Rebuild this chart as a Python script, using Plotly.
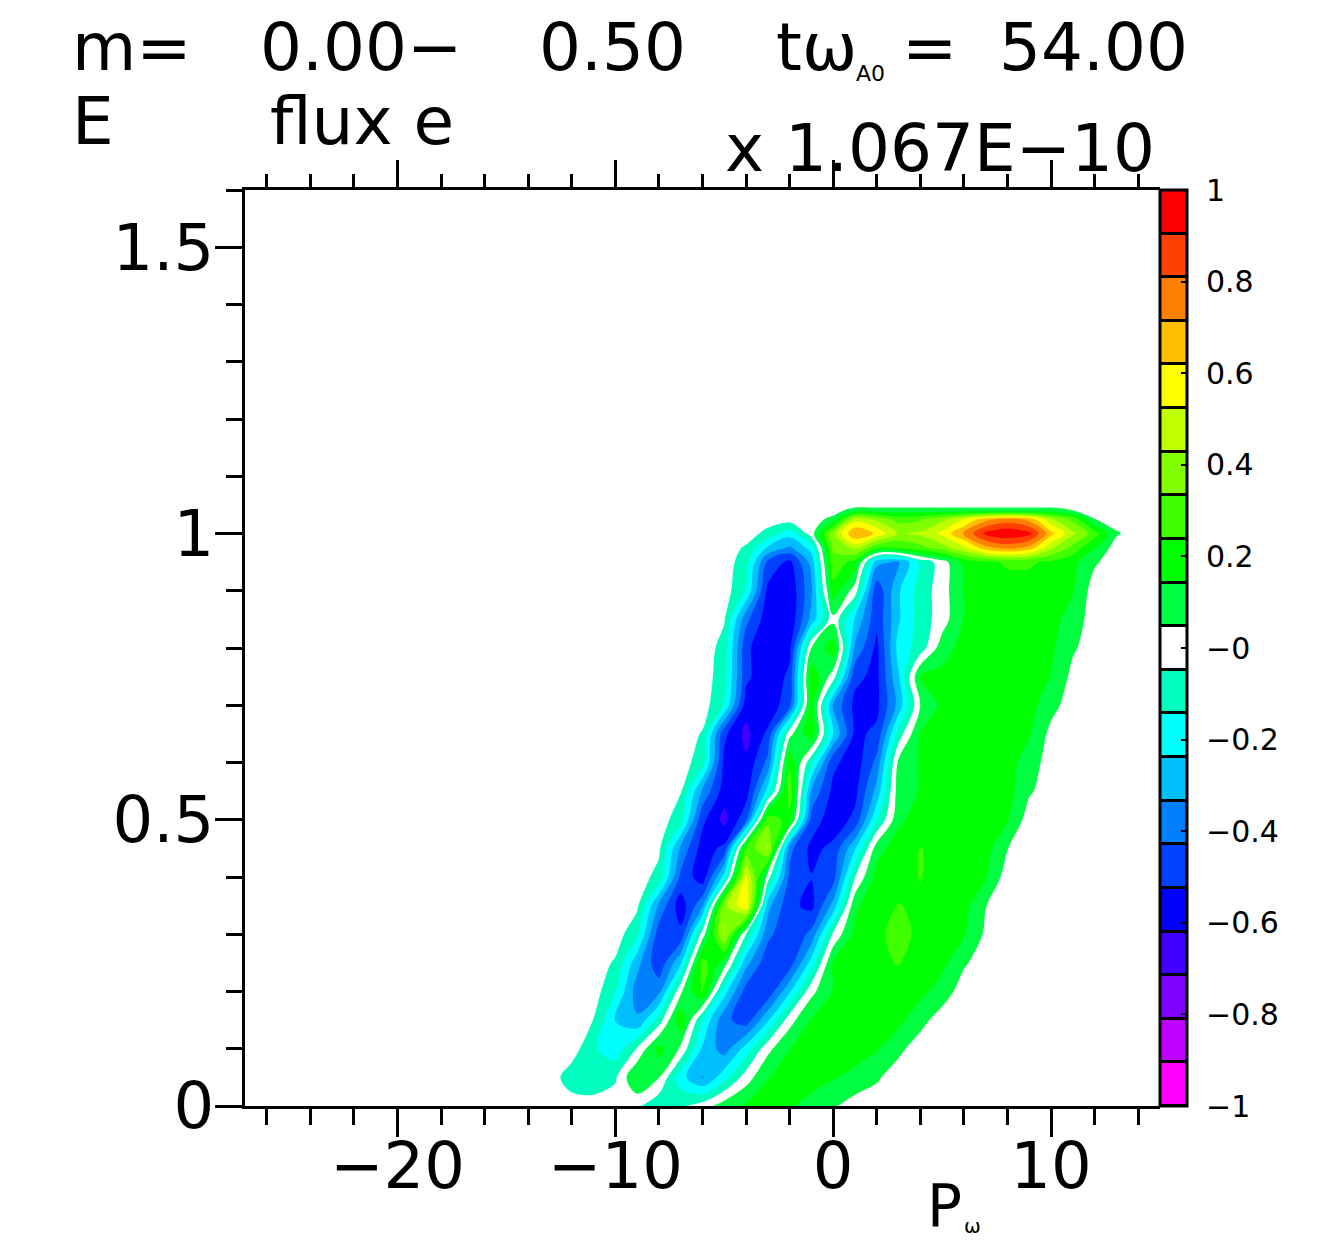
import plotly.graph_objects as go

# ---------------- data ----------------
x_vals = list(range(-14, 15))          # P_omega grid
y_vals = [0.0, 0.05, 0.10, 0.15, 0.20, 0.25, 0.30, 0.35, 0.40, 0.45, 0.50,
          0.55, 0.60, 0.65, 0.70, 0.75, 0.80, 0.85, 0.90, 0.95, 0.975,
          1.0, 1.025, 1.04, 1.05]      # E grid

flux = [
    [0,0,0,0,0,-0.03,-0.12,-0.06,0,0.10,0.16,0.17,0.15,0.12,0.06,0,0,0,0,0,0,0,0,0,0,0,0,0,0],
    [0,0,-0.10,-0.12,-0.06,0.15,0.05,-0.20,-0.34,-0.18,0,0.14,0.18,0.17,0.15,0.12,0.06,0,0,0,0,0,0,0,0,0,0,0,0],
    [0,0,0,-0.13,-0.20,-0.04,0.18,0.03,-0.25,-0.38,-0.20,0.02,0.14,0.20,0.19,0.18,0.15,0.07,0,0,0,0,0,0,0,0,0,0,0],
    [0,0,0,-0.05,-0.24,-0.32,-0.10,0.22,-0.15,-0.40,-0.48,-0.25,0.01,0.15,0.20,0.20,0.19,0.17,0.08,0,0,0,0,0,0,0,0,0,0],
    [0,0,0,0,-0.14,-0.38,-0.36,0.03,0.25,-0.20,-0.47,-0.50,-0.25,0.02,0.15,0.20,0.21,0.22,0.17,0.10,0,0,0,0,0,0,0,0,0],
    [0,0,0,0,-0.06,-0.30,-0.50,-0.25,0.28,0.10,-0.30,-0.50,-0.48,-0.20,0.15,0.20,0.23,0.24,0.22,0.17,0.06,0,0,0,0,0,0,0,0],
    [0,0,0,0,0,-0.12,-0.48,-0.50,0,0.45,-0.05,-0.40,-0.52,-0.40,-0.03,0.17,0.23,0.25,0.23,0.20,0.15,0.03,0,0,0,0,0,0,0],
    [0,0,0,0,0,-0.03,-0.35,-0.58,-0.35,0.40,0.60,-0.30,-0.50,-0.55,-0.30,0.12,0.22,0.24,0.23,0.20,0.18,0.05,0,0,0,0,0,0,0],
    [0,0,0,0,0,0,-0.08,-0.45,-0.58,-0.20,0.55,0,-0.45,-0.52,-0.47,-0.05,0.18,0.22,0.24,0.22,0.20,0.15,0,0,0,0,0,0,0],
    [0,0,0,0,0,0,-0.03,-0.35,-0.57,-0.50,0.25,0.45,-0.40,-0.55,-0.50,-0.25,0.10,0.20,0.24,0.22,0.20,0.18,0.05,0,0,0,0,0,0],
    [0,0,0,0,0,0,0,-0.10,-0.50,-0.65,-0.45,0.30,0.20,-0.47,-0.58,-0.50,-0.15,0.12,0.20,0.20,0.20,0.18,0.15,0,0,0,0,0,0],
    [0,0,0,0,0,0,0,-0.04,-0.35,-0.57,-0.57,-0.20,0.30,-0.35,-0.55,-0.55,-0.30,0.10,0.15,0.20,0.20,0.19,0.18,0.06,0,0,0,0,0],
    [0,0,0,0,0,0,0,0,-0.10,-0.55,-0.60,-0.40,0.22,-0.12,-0.50,-0.58,-0.40,0.07,0.15,0.20,0.20,0.20,0.18,0.10,0,0,0,0,0],
    [0,0,0,0,0,0,0,0,-0.055,-0.50,-0.65,-0.50,0.02,0.20,-0.24,-0.55,-0.50,-0.10,0.15,0.20,0.20,0.20,0.18,0.15,0.02,0,0,0,0],
    [0,0,0,0,0,0,0,0,0,-0.15,-0.57,-0.60,-0.45,0.20,-0.35,-0.55,-0.55,-0.30,0.05,0.17,0.20,0.20,0.20,0.18,0.08,0,0,0,0],
    [0,0,0,0,0,0,0,0,0,-0.10,-0.50,-0.60,-0.50,0.22,0,-0.50,-0.55,-0.25,0.15,0.17,0.20,0.20,0.20,0.18,0.14,0.02,0,0,0],
    [0,0,0,0,0,0,0,0,0,-0.08,-0.50,-0.60,-0.55,0.05,0.20,-0.35,-0.55,-0.20,-0.10,0.10,0.18,0.20,0.20,0.19,0.16,0.06,0,0,0],
    [0,0,0,0,0,0,0,0,0,-0.04,-0.40,-0.58,-0.60,-0.30,0.02,-0.25,-0.50,-0.25,-0.10,0,0.15,0.20,0.20,0.20,0.18,0.10,0,0,0],
    [0,0,0,0,0,0,0,0,0,0,-0.15,-0.55,-0.60,-0.35,0.20,0,-0.50,-0.25,-0.10,0,0.15,0.20,0.20,0.20,0.19,0.15,0,0,0],
    [0,0,0,0,0,0,0,0,0,0,-0.10,-0.45,-0.55,-0.30,0.30,0.20,-0.30,-0.35,-0.12,0,0.17,0.22,0.25,0.25,0.22,0.17,0.06,0,0],
    [0,0,0,0,0,0,0,0,0,0,-0.06,-0.25,-0.35,-0.20,0.35,0.45,0.25,0.25,0.30,0.38,0.50,0.68,0.75,0.68,0.45,0.30,0.15,0,0],
    [0,0,0,0,0,0,0,0,0,0,0,-0.08,-0.20,0,0.40,0.72,0.60,0.42,0.45,0.55,0.72,0.93,0.98,0.93,0.65,0.45,0.28,0.06,0],
    [0,0,0,0,0,0,0,0,0,0,0,0,0,0,0.08,0.48,0.40,0.30,0.32,0.40,0.52,0.68,0.75,0.68,0.45,0.30,0.05,0,0],
    [0,0,0,0,0,0,0,0,0,0,0,0,0,0,0,0.10,0.10,0.10,0.10,0.10,0.10,0.10,0.10,0.10,0.10,0.05,0,0,0],
    [0,0,0,0,0,0,0,0,0,0,0,0,0,0,0,0,0,0,0,0,0,0,0,0,0,0,0,0,0],
]

band_colors = ["#ff00ff", "#bf00ff", "#8000ff", "#4000ff", "#0000ff", "#0040ff",
               "#0080ff", "#00bfff", "#00ffff", "#00ffbf", "#ffffff", "#00ff40",
               "#00ff00", "#40ff00", "#80ff00", "#bfff00", "#ffff00", "#ffbf00",
               "#ff8000", "#ff4000", "#ff0000"]
cbar_tickvals = [-1, -0.8, -0.6, -0.4, -0.2, 0, 0.2, 0.4, 0.6, 0.8, 1]
cbar_ticktext = ["\u22121", "\u22120.8", "\u22120.6", "\u22120.4", "\u22120.2", "\u22120",
                 "0.2", "0.4", "0.6", "0.8", "1"]

# empty (zero) border so the field's outer seam falls outside the axes
pad_x_left, pad_x_right, pad_y_top = -28, 16, 1.7
x_grid = [pad_x_left] + x_vals + [pad_x_right]
y_grid = y_vals + [pad_y_top]
z_grid = [[0.0] + row + [0.0] for row in flux] + [[0.0] * len(x_grid)]

# ---------------- layout geometry ----------------
W, H = 1343, 1241
L, R, T, B = 245, 43, 190, 135
PW, PH = W - L - R, H - T - B
X_MAIN_END = (1160 - L) / PW
X_CB_END = (1187 - L) / PW

def paper(px, py):
    return (px - L) / PW, (H - B - py) / PH

n = len(band_colors)
step = 2.0 / n
cscale = [[k / (n - 1), c] for k, c in enumerate(band_colors)]
FONT = "DejaVu Sans"

fig = go.Figure()

fig.add_trace(go.Contour(
    x=x_grid, y=y_grid, z=z_grid,
    colorscale=cscale, autocontour=False,
    contours=dict(start=-1 + step, end=1 - step, size=step,
                  coloring="fill", showlines=False),
    line=dict(width=0), showscale=False, hoverinfo="skip",
    xaxis="x", yaxis="y",
))

# colour bar drawn as a stacked heatmap
cb_centers = [-1 + step * (k + 0.5) for k in range(n)]
fig.add_trace(go.Heatmap(
    x=[0], y=cb_centers, z=[[k] for k in range(n)],
    colorscale=cscale, zmin=0, zmax=n - 1, showscale=False,
    ygap=3, hoverinfo="skip", xaxis="x2", yaxis="y2",
))
# dummy trace so the top axis exists
fig.add_trace(go.Scatter(x=[], y=[], xaxis="x3", yaxis="y", showlegend=False))

axis_common = dict(showgrid=False, zeroline=False, showline=True, linewidth=3,
                   linecolor="black", ticks="outside", tickwidth=3,
                   tickcolor="black")

fig.update_layout(
    width=W, height=H,
    margin=dict(l=L, r=R, t=T, b=B, pad=0),
    paper_bgcolor="white", plot_bgcolor="white",
    showlegend=False,
    font=dict(family=FONT, color="black"),
    xaxis=dict(domain=[0, X_MAIN_END], range=[-27, 15], anchor="y",
               tick0=0, dtick=10, ticklen=28, ticklabelstandoff=-26,
               tickfont=dict(family=FONT, size=64, color="black"),
               minor=dict(tick0=0, dtick=2, ticks="outside", ticklen=16,
                          tickwidth=3, tickcolor="black", showgrid=False),
               **axis_common),
    xaxis3=dict(domain=[0, X_MAIN_END], range=[-27, 15], anchor="y",
                overlaying="x", side="top", tick0=0, dtick=10, ticklen=27,
                showticklabels=False,
                minor=dict(tick0=0, dtick=2, ticks="outside", ticklen=13,
                           tickwidth=3, tickcolor="black", showgrid=False),
                **axis_common),
    yaxis=dict(domain=[0, 1], range=[0, 1.6], anchor="x",
               tick0=0, dtick=0.5, ticklen=27, ticklabelstandoff=-12,
               tickfont=dict(family=FONT, size=64, color="black"),
               minor=dict(tick0=0, dtick=0.1, ticks="outside", ticklen=16,
                          tickwidth=3, tickcolor="black", showgrid=False),
               **axis_common),
    xaxis2=dict(domain=[X_MAIN_END, X_CB_END], range=[-0.5, 0.5], anchor="y2",
                visible=False, fixedrange=True),
    yaxis2=dict(domain=[0, 1], range=[-1, 1], anchor="x2", side="right",
                tickvals=cbar_tickvals, ticktext=cbar_ticktext,
                ticks="inside", ticklen=6, tickwidth=2, tickcolor="black",
                showline=False, showgrid=False, zeroline=False,
                ticklabelstandoff=18,
                tickfont=dict(family=FONT, size=30, color="black")),
    shapes=[
        dict(type="rect", xref="x2 domain", yref="y2 domain", x0=0, x1=1, y0=0, y1=1,
             fillcolor="black", line=dict(width=0), layer="below"),
        dict(type="rect", xref="x2 domain", yref="y2 domain", x0=0, x1=1, y0=0, y1=1,
             fillcolor="rgba(0,0,0,0)", line=dict(color="black", width=3), layer="above"),
    ],
)

texts = [
    ("m=", 70, 47, 66, "left"),
    ("0.00\u2212", 258, 47, 66, "left"),
    ("0.50", 537, 47, 66, "left"),
    ("t\u03c9", 774, 47, 66, "left"),
    ("A0", 854, 73, 22, "left"),
    ("=", 900, 47, 66, "left"),
    ("54.00", 997, 47, 66, "left"),
    ("E", 70, 122, 66, "left"),
    ("flux e", 268, 122, 66, "left"),
    ("x 1.067E\u221210", 1157, 149, 66, "right"),
    ("P", 925, 1206, 58, "left"),
    ("\u03c9", 962, 1226, 20, "left"),
]
for txt, px, py, size, anchor in texts:
    ax, ay = paper(px, py)
    fig.add_annotation(x=ax, y=ay, xref="paper", yref="paper", text=txt,
                       showarrow=False, xanchor=anchor, yanchor="middle",
                       font=dict(family=FONT, size=size, color="black"))

fig.write_html("out.html")
